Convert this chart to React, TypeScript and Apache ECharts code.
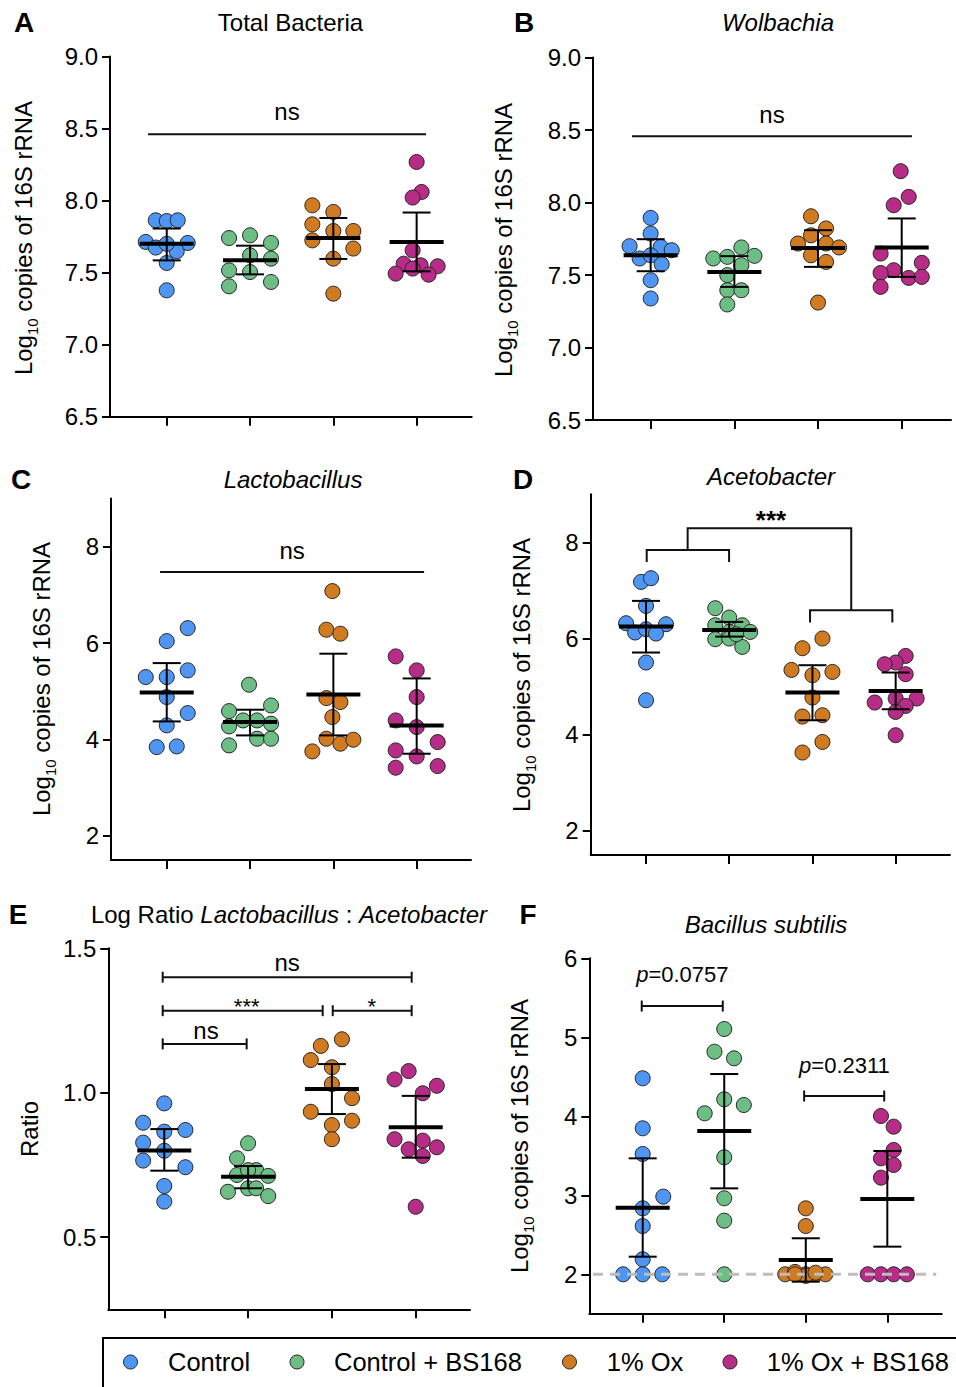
import React, { useEffect, useRef } from "react";
import * as echarts from "echarts";

const FONT = '"Liberation Sans", Arial, Helvetica, sans-serif';

const GROUPS = ["Control", "Control + BS168", "1% Ox", "1% Ox + BS168"];
const COLORS = ["#4F96F2", "#6CBE84", "#D07A22", "#B62C86"];
const CATEGORY_POS = [1, 2, 3, 4];
const JITTER_STEP = 0.12;

// tick labels
const TICKS_AB = [6.5, 7.0, 7.5, 8.0, 8.5, 9.0];
const TICKS_CD = [2, 4, 6, 8];
const TICKS_E = [0.5, 1.0, 1.5];
const TICKS_F = [2, 3, 4, 5, 6];

// A: Total Bacteria
const totalValues = [
  [7.863, 7.858, 7.863, 7.713, 7.706, 7.674, 7.648, 7.7, 7.567, 7.377],
  [7.74, 7.759, 7.706, 7.62, 7.597, 7.516, 7.504, 7.405, 7.435],
  [7.967, 7.921, 7.835, 7.789, 7.789, 7.724, 7.667, 7.597, 7.354],
  [8.268, 8.06, 8.021, 7.655, 7.562, 7.551, 7.544, 7.493, 7.486, 7.528],
];
const totalSlots = [
  [-1.1, 0, 1.1, -2.1, 2.1, -1.1, 1, 0, 0, 0],
  [-2.1, 0, 2.1, 0, 2.1, -2.1, 0, -2.1, 2.1],
  [-2.1, 0, -2.1, 2, 0, -2.1, 2, 0, 0],
  [0, 0.5, -0.4, -0.4, -1.3, 0.4, 2.1, -2.1, 1.2, -0.4],
];
const totalMean = [7.7, 7.585, 7.74, 7.713];
const totalLow = [7.585, 7.488, 7.595, 7.509];
const totalHigh = [7.806, 7.687, 7.879, 7.917];

// B: Wolbachia
const wolbValues = [
  [7.894, 7.786, 7.699, 7.694, 7.671, 7.614, 7.636, 7.574, 7.464, 7.338],
  [7.69, 7.614, 7.625, 7.632, 7.568, 7.499, 7.395, 7.395, 7.297],
  [7.905, 7.821, 7.774, 7.717, 7.717, 7.69, 7.636, 7.59, 7.31],
  [8.216, 8.039, 7.981, 7.648, 7.584, 7.533, 7.514, 7.48, 7.487, 7.418],
];
const wolbSlots = [
  [0, 0, -2.1, 1, 2.1, -1.1, 0, 1.1, 0, 0],
  [0.7, -2.1, -0.7, 2, 0.7, -0.7, -0.7, 0.7, -0.7],
  [-0.7, 0.8, -0.7, -2, 0.8, 2.1, -0.7, 0.8, 0],
  [-0.1, 0.7, -0.8, -2.1, 2, -0.8, -2.1, 0.7, 2, -2.1],
];
const wolbMean = [7.636, 7.521, 7.687, 7.69];
const wolbLow = [7.526, 7.418, 7.556, 7.487];
const wolbHigh = [7.747, 7.63, 7.809, 7.89];

// C: Lactobacillus
const lactoValues = [
  [6.311, 6.041, 5.295, 5.295, 5.434, 4.88, 4.548, 4.293, 3.842, 3.857],
  [5.137, 4.589, 4.707, 4.396, 4.272, 4.396, 4.327, 4.016, 4.016, 3.878],
  [7.079, 6.278, 6.195, 4.859, 4.776, 4.465, 4.016, 3.913, 3.996, 3.753],
  [5.724, 5.434, 4.88, 4.396, 4.257, 3.946, 3.774, 3.649, 3.415, 3.448],
];
const lactoSlots = [
  [2.1, 0, -2.1, 0, 2.1, 0, 2.1, 0, -1, 1],
  [-0.1, -2.1, 2.1, -0.7, -2.1, 0.7, 2.1, 0.7, 2.1, -2.1],
  [-0.1, -0.7, 0.7, -0.7, 0.7, -0.1, -0.7, 0.7, 2, -2.1],
  [-2.1, 0, 0, -2.1, 0, 2.1, -2.1, 0, -2.1, 2.1],
];
const lactoMean = [4.977, 4.361, 4.936, 4.293];
const lactoLow = [4.375, 4.085, 4.085, 3.705];
const lactoHigh = [5.585, 4.618, 5.78, 5.267];

// D: Acetobacter
const acetoValues = [
  [7.177, 7.254, 6.678, 6.318, 6.297, 6.125, 6.193, 6.104, 5.501, 4.717],
  [6.63, 6.436, 6.276, 6.276, 6.137, 6.137, 5.985, 6.0, 5.825, 6.089],
  [6.0, 5.798, 5.347, 5.237, 5.306, 4.773, 4.378, 4.405, 3.85, 3.63],
  [5.639, 5.501, 5.466, 5.258, 4.669, 4.753, 4.753, 4.599, 4.474, 3.99],
];
const acetoSlots = [
  [-0.5, 0.5, 0, -2, 2, -1.1, 0, 1, 0, 0],
  [-1.4, 0, -1.4, 1.3, 0, 2.1, -1.4, 0, 1.3, 0.7],
  [1, -1, -2.1, 0, 2, 0, -1, 1, 1, -1],
  [1, 0, -1.1, 1, -2.1, 0, 2.1, 1, 0, 0],
];
const acetoMean = [6.249, 6.179, 4.877, 4.911];
const acetoLow = [5.709, 6.04, 4.301, 4.53];
const acetoHigh = [6.782, 6.345, 5.445, 5.293];

// E: Log ratio Lactobacillus : Acetobacter
const ratioValues = [
  [0.963, 0.896, 0.865, 0.871, 0.827, 0.799, 0.765, 0.742, 0.677, 0.623],
  [0.825, 0.773, 0.732, 0.712, 0.715, 0.732, 0.657, 0.669, 0.669, 0.642],
  [1.185, 1.162, 1.113, 1.088, 1.03, 0.981, 0.934, 0.903, 0.888, 0.839],
  [1.075, 1.046, 1.024, 0.998, 0.839, 0.834, 0.811, 0.804, 0.781, 0.605],
];
const ratioSlots = [
  [0, -2.1, 0, 2.1, -2.1, 0, -2.1, 2.1, 0, 0],
  [0, -1.1, 0.8, 2, -1.1, 0, -2, 0, 0.8, 2],
  [1, -1.1, -2.1, 0, 0, 2, -2.1, 2, 0, 0],
  [-0.7, -2.1, 2.1, 0.7, -2.1, 0.7, 2.1, -0.7, 0.7, 0],
];
const ratioMean = [0.8, 0.709, 1.013, 0.88];
const ratioLow = [0.73, 0.669, 0.926, 0.775];
const ratioHigh = [0.874, 0.746, 1.099, 0.989];

// F: Bacillus subtilis
const bsubValues = [
  [4.481, 3.848, 3.523, 2.983, 2.835, 2.611, 2.19, 2.0, 2.0, 2.0],
  [5.105, 4.818, 4.734, 4.215, 4.038, 4.143, 3.481, 2.962, 2.679, 2.0],
  [2.835, 2.611, 2.0, 2.03, 2.0, 2.0, 2.0, 1.98, 2.0, 2.02],
  [4.004, 3.869, 3.574, 3.468, 3.384, 3.223, 2.0, 2.0, 2.0, 2.0],
];
const bsubSlots = [
  [0, 0, 0, 2.1, 0, 0, 0, -2, 0, 2],
  [0, -1, 1, 0, -2, 2, 0, 0, 0, 0],
  [0, 0, -2.1, -1.1, 0, 1, 2, 0, -1.1, 1],
  [-0.65, 0.65, 0.65, -0.65, 0.65, -0.65, -2, -0.65, 0.65, 2],
];
const bsubMean = [2.843, 3.814, 2.181, 2.953];
const bsubLow = [2.223, 3.088, 1.907, 2.35];
const bsubHigh = [3.468, 4.535, 2.456, 3.561];
const bsubDetectionLimit = 2.0;

type Ann = {
  lines: number[][][];
  caps?: boolean;
  label: string;
  lx: number;
  ly: number;
  kind: string;
};

const totalAnn: Ann[] = [
  { lines: [[[0.776, 8.46], [4.113, 8.46]]], label: "ns", lx: 2.444, ly: 8.617, kind: "ns" },
];
const wolbAnn: Ann[] = [
  { lines: [[[0.777, 8.457], [4.122, 8.457]]], label: "ns", lx: 2.45, ly: 8.604, kind: "ns" },
];
const lactoAnn: Ann[] = [
  { lines: [[[0.92, 7.473], [4.089, 7.473]]], label: "ns", lx: 2.505, ly: 7.913, kind: "ns" },
];
const acetoAnn: Ann[] = [
  {
    lines: [
      [[1.008, 7.593], [1.008, 7.842], [1.998, 7.842], [1.998, 7.593]],
      [[2.971, 6.333], [2.971, 6.588], [3.96, 6.588], [3.96, 6.333]],
      [[1.5, 7.842], [1.5, 8.293], [3.466, 8.293], [3.466, 6.588]],
    ],
    label: "***",
    lx: 2.502,
    ly: 8.459,
    kind: "starBig",
  },
];
const ratioAnn: Ann[] = [
  { lines: [[[0.981, 1.4], [3.952, 1.4]]], caps: true, label: "ns", lx: 2.466, ly: 1.452, kind: "ns" },
  { lines: [[[0.981, 1.284], [2.89, 1.284]]], caps: true, label: "***", lx: 1.983, ly: 1.297, kind: "star" },
  { lines: [[[3.01, 1.284], [3.952, 1.284]]], caps: true, label: "*", lx: 3.475, ly: 1.297, kind: "star" },
  { lines: [[[0.981, 1.169], [1.983, 1.169]]], caps: true, label: "ns", lx: 1.498, ly: 1.215, kind: "ns" },
];
const bsubAnn: Ann[] = [
  { lines: [[[0.988, 5.396], [1.982, 5.396]]], caps: true, label: "0.0757", lx: 1.486, ly: 5.789, kind: "p" },
  { lines: [[[2.98, 4.257], [3.962, 4.257]]], caps: true, label: "0.2311", lx: 3.474, ly: 4.649, kind: "p" },
];

const panels = [
  { grid: { left: 110, top: 56.5, width: 361.7, height: 360.2 }, x: [0.319, 4.661], y: [6.5, 9.0], ticks: TICKS_AB, dec: 1, vals: totalValues, slots: totalSlots, mean: totalMean, low: totalLow, high: totalHigh, anns: totalAnn },
  { grid: { left: 593, top: 57.5, width: 358, height: 362.5 }, x: [0.311, 4.589], y: [6.5, 9.0], ticks: TICKS_AB, dec: 1, vals: wolbValues, slots: wolbSlots, mean: wolbMean, low: wolbLow, high: wolbHigh, anns: wolbAnn },
  { grid: { left: 111, top: 498.5, width: 360, height: 361.5 }, x: [0.331, 4.652], y: [1.5, 9.0], ticks: TICKS_CD, dec: 0, vals: lactoValues, slots: lactoSlots, mean: lactoMean, low: lactoLow, high: lactoHigh, anns: lactoAnn },
  { grid: { left: 590.7, top: 494.2, width: 359.3, height: 360.8 }, x: [0.335, 4.653], y: [1.5, 9.0], ticks: TICKS_CD, dec: 0, vals: acetoValues, slots: acetoSlots, mean: acetoMean, low: acetoLow, high: acetoHigh, anns: acetoAnn },
  { grid: { left: 108.3, top: 948.3, width: 361.7, height: 361 }, x: [0.332, 4.648], y: [0.25, 1.5], ticks: TICKS_E, dec: 1, vals: ratioValues, slots: ratioSlots, mean: ratioMean, low: ratioLow, high: ratioHigh, anns: ratioAnn },
  { grid: { left: 589.3, top: 958.3, width: 352.4, height: 355.5 }, x: [0.345, 4.667], y: [1.5, 6.0], ticks: TICKS_F, dec: 0, vals: bsubValues, slots: bsubSlots, mean: bsubMean, low: bsubLow, high: bsubHigh, anns: bsubAnn },
];

const BLACK = "#000";
const axisLineStyle = { color: BLACK, width: 2 };

function labelStyle(kind: string, label: string): any {
  const base: any = { fontFamily: FONT, fill: BLACK, color: BLACK, align: "center", textAlign: "center", verticalAlign: "middle", textVerticalAlign: "middle" };
  if (kind === "ns") return { ...base, text: label, fontSize: 24 };
  if (kind === "starBig") return { ...base, text: label, fontSize: 26, fontWeight: "bold" };
  if (kind === "star") return { ...base, text: label, fontSize: 22 };
  return {
    ...base,
    text: "{i|p}{n|=" + label + "}",
    fontSize: 22,
    rich: {
      i: { fontStyle: "italic", fontSize: 22, fontFamily: FONT, fill: BLACK, color: BLACK },
      n: { fontSize: 22, fontFamily: FONT, fill: BLACK, color: BLACK },
    },
  };
}

function makeAnnRender(anns: Ann[]) {
  return (params: any, api: any) => {
    const a = anns[params.dataIndex];
    const children: any[] = [];
    a.lines.forEach((pts) => {
      const px = pts.map((p) => api.coord(p));
      children.push({ type: "polyline", shape: { points: px }, style: { stroke: "#111", lineWidth: 2, fill: "none" } });
      if (a.caps) {
        [px[0], px[px.length - 1]].forEach((q) => {
          children.push({ type: "line", shape: { x1: q[0], y1: q[1] - 5.5, x2: q[0], y2: q[1] + 5.5 }, style: { stroke: "#111", lineWidth: 2 } });
        });
      }
    });
    const lp = api.coord([a.lx, a.ly]);
    children.push({ type: "text", x: lp[0], y: lp[1], style: labelStyle(a.kind, a.label) });
    return { type: "group", children };
  };
}

function meanRender(params: any, api: any) {
  const x = api.value(0);
  const m = api.coord([x, api.value(1)]);
  const lo = api.coord([x, api.value(2)]);
  const hi = api.coord([x, api.value(3)]);
  const thin = { stroke: "#000", lineWidth: 2 };
  return {
    type: "group",
    children: [
      { type: "line", shape: { x1: lo[0], y1: lo[1], x2: hi[0], y2: hi[1] }, style: thin },
      { type: "line", shape: { x1: hi[0] - 14, y1: hi[1], x2: hi[0] + 14, y2: hi[1] }, style: thin },
      { type: "line", shape: { x1: lo[0] - 14, y1: lo[1], x2: lo[0] + 14, y2: lo[1] }, style: thin },
      { type: "line", shape: { x1: m[0] - 27, y1: m[1], x2: m[0] + 27, y2: m[1] }, style: { stroke: "#000", lineWidth: 4 } },
    ],
  };
}

function txt(x: number, y: number, style: any, rotation = 0): any {
  return {
    type: "text",
    x,
    y,
    rotation,
    silent: true,
    style: { fontFamily: FONT, fill: BLACK, align: "center", textAlign: "center", verticalAlign: "middle", textVerticalAlign: "middle", ...style },
  };
}

const titleRich = {
  n: { fontSize: 24, fontFamily: FONT, fill: BLACK, color: BLACK },
  i: { fontSize: 24, fontFamily: FONT, fontStyle: "italic", fill: BLACK, color: BLACK },
};
const nameRich = {
  n: { fontSize: 24, fontFamily: FONT, lineHeight: 34, fill: BLACK, color: BLACK },
  s: { fontSize: 15, fontFamily: FONT, verticalAlign: "bottom", fill: BLACK, color: BLACK },
};
const LOG_NAME = "{n|Log}{s|10}{n| copies of 16S rRNA}";

function buildOption(): any {
  const grid = panels.map((p) => ({ ...p.grid }));
  const xAxis = panels.map((p, i) => ({
    type: "value",
    gridIndex: i,
    min: p.x[0],
    max: p.x[1],
    axisLine: { show: true, onZero: false, lineStyle: axisLineStyle },
    axisTick: { show: true, customValues: CATEGORY_POS, length: 9, lineStyle: axisLineStyle },
    axisLabel: { show: false },
    splitLine: { show: false },
  }));
  const yAxis = panels.map((p, i) => ({
    type: "value",
    gridIndex: i,
    min: p.y[0],
    max: p.y[1],
    axisLine: { show: true, onZero: false, lineStyle: axisLineStyle },
    axisTick: { show: true, customValues: p.ticks, length: 8, lineStyle: axisLineStyle },
    axisLabel: {
      show: true,
      customValues: p.ticks,
      formatter: (v: number) => (p.dec ? Number(v).toFixed(p.dec) : String(Math.round(v))),
      fontSize: 24,
      fontFamily: FONT,
      color: BLACK,
      margin: 12,
    },
    splitLine: { show: false },
  }));

  const series: any[] = [];
  panels.forEach((p, i) => {
    p.vals.forEach((g, k) => {
      series.push({
        type: "scatter",
        name: GROUPS[k],
        xAxisIndex: i,
        yAxisIndex: i,
        symbol: "circle",
        symbolSize: 15,
        silent: true,
        z: 2,
        itemStyle: { color: COLORS[k], borderColor: "#262626", borderWidth: 1, opacity: 1 },
        data: g.map((v, j) => [CATEGORY_POS[k] + p.slots[k][j] * JITTER_STEP, v]),
      });
    });
    if (i === 5) {
      series.push({
        type: "line",
        xAxisIndex: i,
        yAxisIndex: i,
        symbol: "none",
        silent: true,
        z: 4,
        lineStyle: { color: "#BDBDBD", width: 3, type: [10, 7] },
        data: [
          [0.39, bsubDetectionLimit],
          [4.6, bsubDetectionLimit],
        ],
      });
    }
    series.push({
      type: "custom",
      xAxisIndex: i,
      yAxisIndex: i,
      silent: true,
      clip: false,
      z: 5,
      renderItem: meanRender,
      encode: { x: 0, y: [1, 2, 3] },
      data: p.mean.map((m, k) => [CATEGORY_POS[k], m, p.low[k], p.high[k]]),
    });
    series.push({
      type: "custom",
      xAxisIndex: i,
      yAxisIndex: i,
      silent: true,
      clip: false,
      z: 6,
      renderItem: makeAnnRender(p.anns),
      encode: { x: 0, y: 1 },
      data: p.anns.map((a) => [a.lx, a.ly]),
    });
  });

  const letterStyle = { fontSize: 28, fontWeight: "bold" };
  const graphic: any[] = [
    txt(24, 22, { text: "A", ...letterStyle }),
    txt(524, 22, { text: "B", ...letterStyle }),
    txt(21, 479, { text: "C", ...letterStyle }),
    txt(523, 479, { text: "D", ...letterStyle }),
    txt(18, 914, { text: "E", ...letterStyle }),
    txt(528, 914, { text: "F", ...letterStyle }),

    txt(290.5, 22, { text: "{n|Total Bacteria}", rich: titleRich }),
    txt(778, 22, { text: "{i|Wolbachia}", rich: titleRich }),
    txt(293, 479, { text: "{i|Lactobacillus}", rich: titleRich }),
    txt(771, 476, { text: "{i|Acetobacter}", rich: titleRich }),
    txt(289, 914, { text: "{n|Log Ratio }{i|Lactobacillus}{n| : }{i|Acetobacter}", rich: titleRich }),
    txt(766, 924, { text: "{i|Bacillus subtilis}", rich: titleRich }),

    txt(23, 238, { text: LOG_NAME, rich: nameRich }, Math.PI / 2),
    txt(503, 240, { text: LOG_NAME, rich: nameRich }, Math.PI / 2),
    txt(41, 679, { text: LOG_NAME, rich: nameRich }, Math.PI / 2),
    txt(521, 675, { text: LOG_NAME, rich: nameRich }, Math.PI / 2),
    txt(29, 1129, { text: "Ratio", fontSize: 24 }, Math.PI / 2),
    txt(519, 1136, { text: LOG_NAME, rich: nameRich }, Math.PI / 2),

    {
      type: "rect",
      silent: true,
      shape: { x: 103, y: 1338, width: 870, height: 70 },
      style: { fill: "none", stroke: BLACK, lineWidth: 2 },
    },
  ];
  const legendMarkerX = [130.5, 297, 569.5, 730];
  const legendTextX = [168, 334, 606.7, 766.7];
  GROUPS.forEach((g, k) => {
    graphic.push({
      type: "circle",
      silent: true,
      shape: { cx: legendMarkerX[k], cy: 1362, r: 7 },
      style: { fill: COLORS[k], stroke: "#262626", lineWidth: 1 },
    });
    graphic.push(
      txt(legendTextX[k], 1362, { text: g, fontSize: 25.5, align: "left", textAlign: "left" })
    );
  });

  return {
    animation: false,
    backgroundColor: "#fff",
    grid,
    xAxis,
    yAxis,
    series,
    graphic,
  };
}

export default function App() {
  const ref = useRef<HTMLDivElement>(null);
  useEffect(() => {
    document.body.style.margin = "0";
    if (!ref.current) return;
    const chart = echarts.init(ref.current, undefined, { renderer: "svg" });
    chart.setOption(buildOption());
    return () => chart.dispose();
  }, []);
  return <div ref={ref} style={{ width: 956, height: 1387, background: "#fff" }} />;
}
